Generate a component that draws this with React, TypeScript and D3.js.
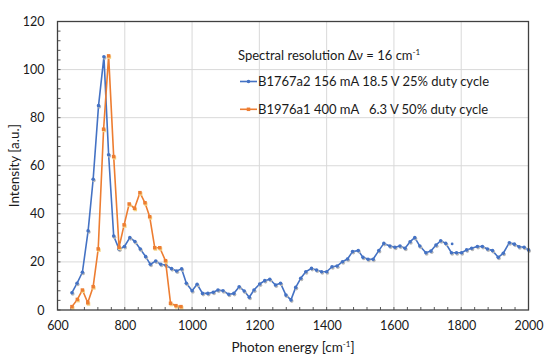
import React, { useEffect, useRef } from 'react';
import * as d3 from 'd3';

// Photon energy [cm-1] and intensity [a.u.]
const blueEnergy = [643, 658, 674, 691, 706, 722, 738, 752, 767, 783, 799, 815, 830, 846, 862, 876, 892, 907, 922, 939, 954, 969,
  983, 1000, 1015, 1031, 1047, 1063, 1077, 1092, 1109, 1124, 1140, 1155, 1170, 1184, 1201, 1216, 1231, 1248, 1263, 1279, 1294, 1308,
  1323, 1338, 1355, 1370, 1385, 1400, 1416, 1431, 1447, 1462, 1477, 1494, 1508, 1523, 1538, 1555,
  1570, 1588, 1603, 1618, 1633, 1648, 1662, 1677, 1695, 1710, 1725, 1739, 1754, 1771, 1786, 1801, 1816, 1831, 1848, 1863, 1878,
  1893, 1910, 1925, 1943, 1958, 1972, 1987, 2000];
const blueIntensity = [7.2, 11.1, 15.7, 32.9, 54.4, 85, 105.3, 64.6, 30.8, 25.3, 26.4, 30.1, 28.5, 25.4, 22.2, 19, 20.4, 19, 18.6, 17.2, 16.2, 17.1,
  11.1, 8.0, 10.7, 6.9, 6.9, 7.4, 8.3, 8.0, 6.5, 6.9, 9.7, 7.9, 5.3, 8.3, 10.8, 12.2, 12.8, 10.4, 11.1, 6.2, 4.2, 9.4,
  13.2, 15.9, 17.3, 16.6, 15.9, 15.9, 18.0, 18.3, 20.1, 21.2, 24.3, 24.7, 21.9, 21.1, 21.1, 24.7,
  27.7, 26.6, 26.1, 26.6, 25.7, 28.4, 30.1, 26.6, 23.8, 24.5, 27, 28.8, 27.7, 23.8, 23.8, 23.8, 25, 25.7, 26.4, 26.4, 25.4,
  24.7, 21.9, 23.6, 28, 27.4, 26.3, 26.1, 25];
// lone marker with no line near 1775
const blueStray = [{ x: 1773, y: 27.5 }];

const orangeEnergy = [643, 659, 674, 690, 706, 721, 737, 752, 767, 783, 798, 813, 829, 845, 860, 874, 889, 904, 921, 936, 952, 967];
const orangeIntensity = [1.4, 4.4, 8.3, 3.0, 9.7, 25.4, 75.2, 105.7, 63.8, 26.1, 35.4, 44.1, 42.3, 48.8, 44.6, 38.8, 25.9, 25.9, 20.5, 2.8, 1.8, 1.4];

const xTicks = [600, 800, 1000, 1200, 1400, 1600, 1800, 2000];
const yTicks = [0, 20, 40, 60, 80, 100, 120];

const legendLabels = ['B1767a2 156 mA 18.5 V 25% duty cycle', 'B1976a1 400 mA \u00a0 6.3 V 50% duty cycle'];
const blue = '#4472c4';
const orange = '#ed7d31';
const font = 'Lato, "Open Sans", sans-serif';

const Chart = () => {
  const svgRef = useRef(null);

  useEffect(() => {
    const svg = d3.select(svgRef.current);
    svg.selectAll('*').remove();

    const margin = { top: 21.5, right: 21.5, bottom: 54, left: 57.5 };
    const width = 550, height = 364;
    const innerWidth = width - margin.left - margin.right;
    const innerHeight = height - margin.top - margin.bottom;

    const x = d3.scaleLinear().domain([600, 2000]).range([0, innerWidth]);
    const y = d3.scaleLinear().domain([0, 120]).range([innerHeight, 0]);

    const g = svg.append('g').attr('transform', `translate(${margin.left},${margin.top})`);

    // gridlines
    g.append('g').selectAll('line').data(yTicks.slice(1)).join('line')
      .attr('x1', 0).attr('x2', innerWidth)
      .attr('y1', d => y(d)).attr('y2', d => y(d))
      .attr('stroke', '#d9d9d9').attr('stroke-width', 1);
    g.append('g').selectAll('line').data(xTicks.slice(1, -1)).join('line')
      .attr('y1', 0).attr('y2', innerHeight)
      .attr('x1', d => x(d)).attr('x2', d => x(d))
      .attr('stroke', '#d9d9d9').attr('stroke-width', 1);

    // minor ticks, inside the frame
    g.append('g').selectAll('line').data(d3.range(600, 2000, 40)).join('line')
      .attr('x1', d => x(d)).attr('x2', d => x(d))
      .attr('y1', innerHeight).attr('y2', innerHeight - 3)
      .attr('stroke', '#595959');
    g.append('g').selectAll('line').data(d3.range(0, 120, 4)).join('line')
      .attr('y1', d => y(d)).attr('y2', d => y(d))
      .attr('x1', 0).attr('x2', 3)
      .attr('stroke', '#595959');

    // axes labels
    const xAxis = g.append('g').attr('transform', `translate(0,${innerHeight})`)
      .call(d3.axisBottom(x).tickValues(xTicks).tickSize(0).tickPadding(11).tickFormat(d3.format('d')));
    const yAxis = g.append('g')
      .call(d3.axisLeft(y).tickValues(yTicks).tickSize(0).tickPadding(13));
    [xAxis, yAxis].forEach(a => {
      a.select('.domain').remove();
      a.selectAll('text').attr('font-family', font).attr('font-size', 12.5).attr('fill', '#1a1a1a');
    });

    // series
    const lineGen = d3.line().x(d => x(d.x)).y(d => y(d.y));
    const series = [
      { color: blue, pts: blueEnergy.map((e, i) => ({ x: e, y: blueIntensity[i] })), shape: 'circle' },
      { color: orange, pts: orangeEnergy.map((e, i) => ({ x: e, y: orangeIntensity[i] })), shape: 'square' },
    ];

    series.forEach(s => {
      g.append('path').datum(s.pts)
        .attr('fill', 'none').attr('stroke', s.color).attr('stroke-width', 1.6)
        .attr('stroke-linejoin', 'round').attr('d', lineGen);
      const m = g.append('g');
      if (s.shape === 'circle') {
        m.selectAll('circle.sh').data(s.pts).join('circle').attr('class', 'sh')
          .attr('cx', d => x(d.x) + 0.8).attr('cy', d => y(d.y) + 1.2).attr('r', 1.8).attr('fill', '#b8b8b8');
        m.selectAll('circle.mk').data(s.pts).join('circle').attr('class', 'mk')
          .attr('cx', d => x(d.x)).attr('cy', d => y(d.y)).attr('r', 1.8).attr('fill', s.color);
      } else {
        m.selectAll('rect.sh').data(s.pts).join('rect').attr('class', 'sh')
          .attr('x', d => x(d.x) - 1).attr('y', d => y(d.y) - 0.5).attr('width', 3.5).attr('height', 3.5).attr('fill', '#f5d58a');
        m.selectAll('rect.mk').data(s.pts).join('rect').attr('class', 'mk')
          .attr('x', d => x(d.x) - 1.75).attr('y', d => y(d.y) - 1.75).attr('width', 3.5).attr('height', 3.5).attr('fill', s.color);
      }
    });

    g.append('g').selectAll('circle').data(blueStray).join('circle')
      .attr('cx', d => x(d.x)).attr('cy', d => y(d.y)).attr('r', 1.4).attr('fill', blue);

    // frame
    g.append('rect').attr('width', innerWidth).attr('height', innerHeight)
      .attr('fill', 'none').attr('stroke', '#404040').attr('stroke-width', 1.3);

    // legend
    const lg = svg.append('g').attr('font-family', font).attr('font-size', 13).attr('fill', '#1a1a1a');
    const title = lg.append('text').attr('x', 238).attr('y', 60);
    title.append('tspan').text('Spectral resolution \u0394\u03bd = 16 cm');
    title.append('tspan').attr('font-size', 8).attr('dy', -5).text('-1');
    [blue, orange].forEach((c, i) => {
      const ly = 81.5 + i * 27.8;
      lg.append('line').attr('x1', 240).attr('x2', 257).attr('y1', ly).attr('y2', ly)
        .attr('stroke', c).attr('stroke-width', 1.6);
      if (i === 0) lg.append('circle').attr('cx', 248.5).attr('cy', ly).attr('r', 1.8).attr('fill', c);
      else lg.append('rect').attr('x', 246.75).attr('y', ly - 1.75).attr('width', 3.5).attr('height', 3.5).attr('fill', c);
      lg.append('text').attr('x', 258).attr('y', ly + 4.5).text(legendLabels[i]);
    });

    // axis titles
    const xt = svg.append('text').attr('x', margin.left + innerWidth / 2).attr('y', 352)
      .attr('text-anchor', 'middle').attr('font-family', font).attr('font-size', 13.5).attr('fill', '#1a1a1a');
    xt.append('tspan').text('Photon energy [cm');
    xt.append('tspan').attr('font-size', 8).attr('dy', -5).text('-1');
    xt.append('tspan').attr('dy', 5).text(']');

    svg.append('text')
      .attr('transform', `translate(19,${margin.top + innerHeight / 2}) rotate(-90)`)
      .attr('text-anchor', 'middle').attr('font-family', font).attr('font-size', 13.5).attr('fill', '#1a1a1a')
      .text('Intensity [a.u.]');
  }, []);

  return <svg ref={svgRef} width={550} height={364} style={{ position: 'absolute', left: 0, top: 0, background: '#fff' }} />;
};

export default function App() {
  return <Chart />;
}
